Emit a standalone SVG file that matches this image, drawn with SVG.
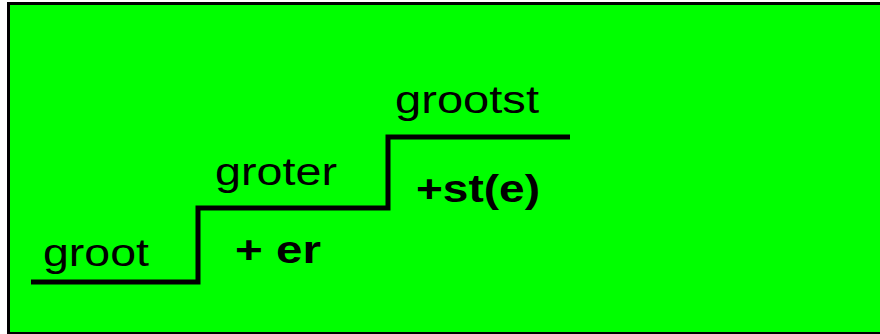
<svg xmlns="http://www.w3.org/2000/svg" width="880" height="334" viewBox="0 0 880 334">
<style>
.w{font-family:"Liberation Sans",Arial,sans-serif;font-size:38px;fill:#000}
.b{font-weight:bold}
</style>
<rect x="0" y="0" width="880" height="334" fill="#fff"/>
<rect x="8.5" y="3.5" width="880" height="330" fill="#00ff00" stroke="#000" stroke-width="3"/>
<g id="connectors">
<path d="M31,282 H198 V208 H388 V137 H570" fill="none" stroke="#000" stroke-width="5"/>
</g>
<g id="groot"><text class="w" x="43" y="266" textLength="106" lengthAdjust="spacingAndGlyphs">groot</text></g>
<g id="groter"><text class="w" x="215" y="185" textLength="122" lengthAdjust="spacingAndGlyphs">groter</text></g>
<g id="grootst"><text class="w" x="395" y="113" textLength="144" lengthAdjust="spacingAndGlyphs">grootst</text></g>
<g id="er"><text class="w b" x="235" y="263" textLength="86" lengthAdjust="spacingAndGlyphs">+ er</text></g>
<g id="ste"><text class="w b" x="416" y="202" textLength="124" lengthAdjust="spacingAndGlyphs">+st(e)</text></g>
</svg>
